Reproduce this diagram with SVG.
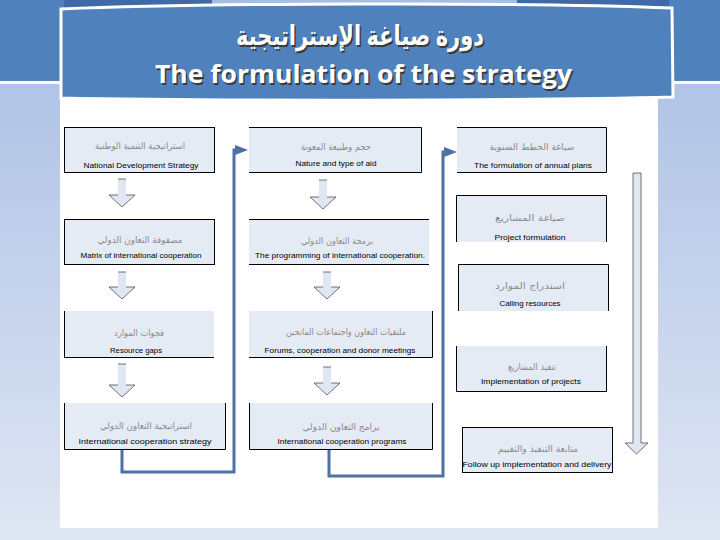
<svg xmlns="http://www.w3.org/2000/svg" width="720" height="540" viewBox="0 0 720 540">
<defs>
<linearGradient id="bg" x1="0" y1="0" x2="0" y2="1">
<stop offset="0" stop-color="#a8bde4"/>
<stop offset="1" stop-color="#dfe6f3"/>
</linearGradient>
<marker id="ah" markerUnits="userSpaceOnUse" markerWidth="14" markerHeight="10" refX="1" refY="5" orient="auto">
<path d="M0,0 L13,5 L0,10 Z" fill="#4f70a4"/>
</marker>
<style>
.box{fill:#e5ebf5;stroke:none}
.bd{fill:none;stroke:#000;stroke-width:1}
.ar{font-family:"DejaVu Sans",sans-serif;font-size:9px;fill:#8a8a8a;text-anchor:middle}
.en{font-family:"Liberation Sans",Arial,sans-serif;font-size:8px;fill:#000;text-anchor:middle}
.blk{fill:#dfe7f2;stroke:none}
.blo{fill:none;stroke:#505050;stroke-width:0.8}
.bll{fill:#dfe7f2;stroke:#505050;stroke-width:0.8}
.con{fill:none;stroke:#4f70a4;stroke-width:3}
.tt{font-family:"Open Sans","DejaVu Sans",sans-serif;font-weight:bold;text-anchor:middle}
</style>
</defs>
<rect x="0" y="0" width="720" height="540" fill="url(#bg)"/>
<rect x="0" y="0" width="720" height="81" fill="#4f81bd"/>
<rect x="0" y="81" width="720" height="3" fill="#ffffff"/>
<rect x="64" y="0" width="148" height="8" fill="#3f6aa5"/>
<rect x="212" y="0" width="305" height="8" fill="#a7bde3"/>
<rect x="517" y="0" width="152" height="8" fill="#3f6aa5"/>
<rect x="60" y="99" width="598" height="429" fill="#ffffff"/>
<g id="banner">
<path d="M61,9 C200,3 520,2 672,8 L673,97 C520,101 200,101 61,98 Z" fill="#4f81bd" stroke="#ffffff" stroke-width="3"/>
<text class="tt" x="361.5" y="46.5" font-size="27" fill="#3a3a3a" textLength="248" lengthAdjust="spacingAndGlyphs">دورة صياغة الإستراتيجية</text>
<text class="tt" x="360" y="45" font-size="27" fill="#ffffff" textLength="248" lengthAdjust="spacingAndGlyphs">دورة صياغة الإستراتيجية</text>
<text class="tt" x="365" y="84.5" font-size="25" fill="#3a3a3a" textLength="417" lengthAdjust="spacingAndGlyphs">The formulation of the strategy</text>
<text class="tt" x="363.5" y="83" font-size="25" fill="#ffffff" textLength="417" lengthAdjust="spacingAndGlyphs">The formulation of the strategy</text>
</g>
<g id="connectors">
<path class="con" d="M122,449 V472 H234 V150 H236" marker-end="url(#ah)"/>
<path class="con" d="M329,449 V476 H443 V152 H445" marker-end="url(#ah)"/>
<path class="blk" d="M118,179 H126 V195 H135 L122,207 L109,195 H118 Z"/>
<path class="blo" d="M118,179 H126 M126,195 H135 L122,207 L109,195 H118"/>
<path class="blk" d="M118,272 H126 V287 H135 L122,299 L109,287 H118 Z"/>
<path class="blo" d="M118,272 H126 M126,287 H135 L122,299 L109,287 H118"/>
<path class="blk" d="M118,364 H126 V385 H135 L122,397 L109,385 H118 Z"/>
<path class="blo" d="M118,364 H126 M126,385 H135 L122,397 L109,385 H118"/>
<path class="blk" d="M319,180 H327 V197 H336 L323,209 L310,197 H319 Z"/>
<path class="blo" d="M319,180 H327 M327,197 H336 L323,209 L310,197 H319"/>
<path class="blk" d="M323,272 H331 V287 H340 L327,299 L314,287 H323 Z"/>
<path class="blo" d="M323,272 H331 M331,287 H340 L327,299 L314,287 H323"/>
<path class="blk" d="M323,367 H331 V383 H340 L327,395 L314,383 H323 Z"/>
<path class="blo" d="M323,367 H331 M331,383 H340 L327,395 L314,383 H323"/>
<path class="bll" d="M633,173 H641 V443 H648 L636.5,454 L625,443 H633 Z"/>
</g>
<g id="n1">
<rect class="box" x="64" y="127" width="150" height="45"/>
<rect class="bd" x="64.5" y="127.5" width="150" height="45"/>
<text class="ar" x="140" y="149" textLength="90" lengthAdjust="spacingAndGlyphs">استراتيجية التنمية الوطنية</text>
<text class="en" x="141" y="168" textLength="115" lengthAdjust="spacingAndGlyphs">National Development Strategy</text>
</g>
<g id="n2">
<rect class="box" x="64" y="219" width="150" height="45"/>
<rect class="bd" x="64.5" y="219.5" width="150" height="45"/>
<text class="ar" x="140" y="243" textLength="85" lengthAdjust="spacingAndGlyphs">مصفوفة التعاون الدولي</text>
<text class="en" x="141" y="258" textLength="121" lengthAdjust="spacingAndGlyphs">Matrix of international cooperation</text>
</g>
<g id="n3">
<rect class="box" x="64" y="311" width="150" height="46"/>
<path class="bd" d="M64.5,311 V357.5 H214"/>
<text class="ar" x="139" y="336" textLength="50" lengthAdjust="spacingAndGlyphs">فجوات الموارد</text>
<text class="en" x="136" y="353" textLength="52" lengthAdjust="spacingAndGlyphs">Resource gaps</text>
</g>
<g id="n4">
<rect class="box" x="64" y="403" width="162" height="46"/>
<path class="bd" d="M64.5,403 V449.5 H225.5 V403"/>
<text class="ar" x="146" y="429" textLength="92" lengthAdjust="spacingAndGlyphs">استراتيجية التعاون الدولي</text>
<text class="en" x="145" y="444" textLength="133" lengthAdjust="spacingAndGlyphs">International cooperation strategy</text>
</g>
<g id="n5">
<rect class="box" x="249" y="127" width="173" height="45"/>
<path class="bd" d="M249,127.5 H421.5 V172.5 H249"/>
<text class="ar" x="336" y="150" textLength="70" lengthAdjust="spacingAndGlyphs">حجم وطبيعة المعونة</text>
<text class="en" x="336" y="166" textLength="81" lengthAdjust="spacingAndGlyphs">Nature and type of aid</text>
</g>
<g id="n6">
<rect class="box" x="249" y="219" width="180" height="45"/>
<path class="bd" d="M249,219.5 H429 M249,264.5 H429"/>
<text class="ar" x="337" y="244" textLength="72" lengthAdjust="spacingAndGlyphs">برمجة التعاون الدولي</text>
<text class="en" x="340" y="258" textLength="170" lengthAdjust="spacingAndGlyphs">The programming of international cooperation.</text>
</g>
<g id="n7">
<rect class="box" x="249" y="311" width="184" height="46"/>
<path class="bd" d="M432.5,311 V357.5 H249"/>
<text class="ar" x="346" y="335" textLength="120" lengthAdjust="spacingAndGlyphs">ملتقيات التعاون واجتماعات المانحين</text>
<text class="en" x="340" y="353" textLength="151" lengthAdjust="spacingAndGlyphs">Forums, cooperation and donor meetings</text>
</g>
<g id="n8">
<rect class="box" x="249" y="403" width="184" height="46"/>
<path class="bd" d="M249.5,403 V449.5 H432.5 V403"/>
<text class="ar" x="341" y="430" textLength="77" lengthAdjust="spacingAndGlyphs">برامج التعاون الدولي</text>
<text class="en" x="342" y="444" textLength="129" lengthAdjust="spacingAndGlyphs">International cooperation programs</text>
</g>
<g id="n9">
<rect class="box" x="457" y="127" width="150" height="45"/>
<path class="bd" d="M457,127.5 H606.5 V172.5 H457"/>
<text class="ar" x="532" y="150" textLength="85" lengthAdjust="spacingAndGlyphs">صياغة الخطط السنوية</text>
<text class="en" x="533" y="168" textLength="118" lengthAdjust="spacingAndGlyphs">The formulation of annual plans</text>
</g>
<g id="n10">
<rect class="box" x="456" y="195" width="151" height="47"/>
<path class="bd" d="M456.5,242 V195.5 H606.5 V242"/>
<text class="ar" x="530" y="221" textLength="70" lengthAdjust="spacingAndGlyphs">صياغة المشاريع</text>
<text class="en" x="530" y="240" textLength="71" lengthAdjust="spacingAndGlyphs">Project formulation</text>
</g>
<g id="n11">
<rect class="box" x="458" y="264" width="151" height="47"/>
<path class="bd" d="M458.5,311 V264.5 H608.5 V311"/>
<text class="ar" x="530" y="289" textLength="70" lengthAdjust="spacingAndGlyphs">استدراج الموارد</text>
<text class="en" x="530" y="306" textLength="61" lengthAdjust="spacingAndGlyphs">Calling resources</text>
</g>
<g id="n12">
<rect class="box" x="456" y="346" width="151" height="46"/>
<path class="bd" d="M456.5,346 V391.5 H606.5 V346"/>
<text class="ar" x="532" y="370" textLength="48" lengthAdjust="spacingAndGlyphs">تنفيذ المشاريع</text>
<text class="en" x="531" y="384" textLength="100" lengthAdjust="spacingAndGlyphs">Implementation of projects</text>
</g>
<g id="n13">
<rect class="box" x="462" y="427" width="151" height="46"/>
<rect class="bd" x="462.5" y="427.5" width="150" height="45"/>
<text class="ar" x="538" y="452" textLength="80" lengthAdjust="spacingAndGlyphs">متابعة التنفيذ والتقييم</text>
<text class="en" x="537" y="467" textLength="149" lengthAdjust="spacingAndGlyphs">Follow up implementation and delivery</text>
</g>
</svg>
